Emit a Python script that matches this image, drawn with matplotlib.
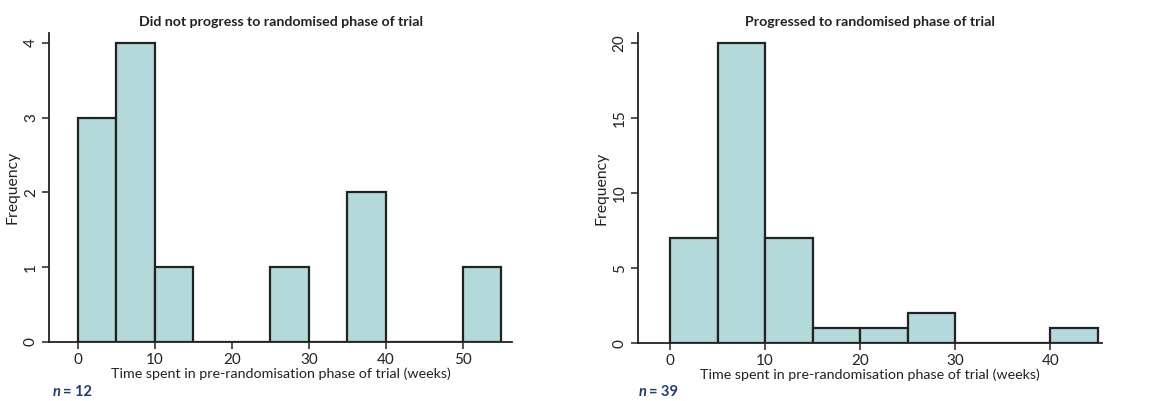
import matplotlib.pyplot as plt

plt.rcParams['font.family'] = ['Lato', 'DejaVu Sans']

# bin edges (weeks) and counts per bin
left_edges = [0, 5, 10, 15, 20, 25, 30, 35, 40, 45, 50, 55]
left_counts = [3, 4, 1, 0, 0, 1, 0, 2, 0, 0, 1]
right_edges = [0, 5, 10, 15, 20, 25, 30, 35, 40, 45]
right_counts = [7, 20, 7, 1, 1, 2, 0, 0, 1]

left_title = 'Did not progress to randomised phase of trial'
right_title = 'Progressed to randomised phase of trial'
xlabel = 'Time spent in pre-randomisation phase of trial (weeks)'

fill = '#b3d9db'
edge = '#222222'
navy = '#1f3d73'

fig = plt.figure(figsize=(11.53, 4.01), dpi=100)


def panel(rect, edges, counts, title, xlim, ylim, yticks, n, nx):
    ax = fig.add_axes(rect)
    ax.hist(edges[:-1], bins=edges, weights=counts,
            color=fill, edgecolor=edge, linewidth=1.6)
    ax.set_xlim(*xlim)
    ax.set_ylim(*ylim)
    ax.set_yticks(yticks)
    ax.set_xticks(range(0, int(xlim[1]), 10))
    for s in ['top', 'right']:
        ax.spines[s].set_visible(False)
    for s in ['left', 'bottom']:
        ax.spines[s].set_linewidth(1.3)
        ax.spines[s].set_color(edge)
    ax.tick_params(length=5, width=1.1, color=edge, labelsize=11,
                   labelcolor='#222222', pad=3)
    plt.setp(ax.get_yticklabels(), rotation=90, va='center')
    ax.set_title(title, fontsize=10.2, fontweight='bold', pad=5, color='#222222')
    ax.set_xlabel(xlabel, fontsize=10.3, labelpad=0, color='#222222')
    ax.set_ylabel('Frequency', fontsize=11.3, labelpad=3, color='#222222')
    fig.text(nx / 1153, 1 - 392 / 401, 'n', color=navy, fontsize=10.5,
             fontweight='bold', fontstyle='italic', va='center')
    fig.text((nx + 10) / 1153, 1 - 392 / 401, '= ' + str(n), color=navy,
             fontsize=10.5, fontweight='bold', va='center')
    return ax


panel([0.0425, 0.147, 0.4016, 0.7706], left_edges, left_counts, left_title,
      (-3.75, 56.4), (0, 4.13), [0, 1, 2, 3, 4], sum(left_counts), 53)
panel([0.5531, 0.144, 0.4024, 0.774], right_edges, right_counts, right_title,
      (-3.4, 45.4), (0, 20.7), [0, 5, 10, 15, 20], sum(right_counts), 639)

fig.savefig('out.png', dpi=100)
